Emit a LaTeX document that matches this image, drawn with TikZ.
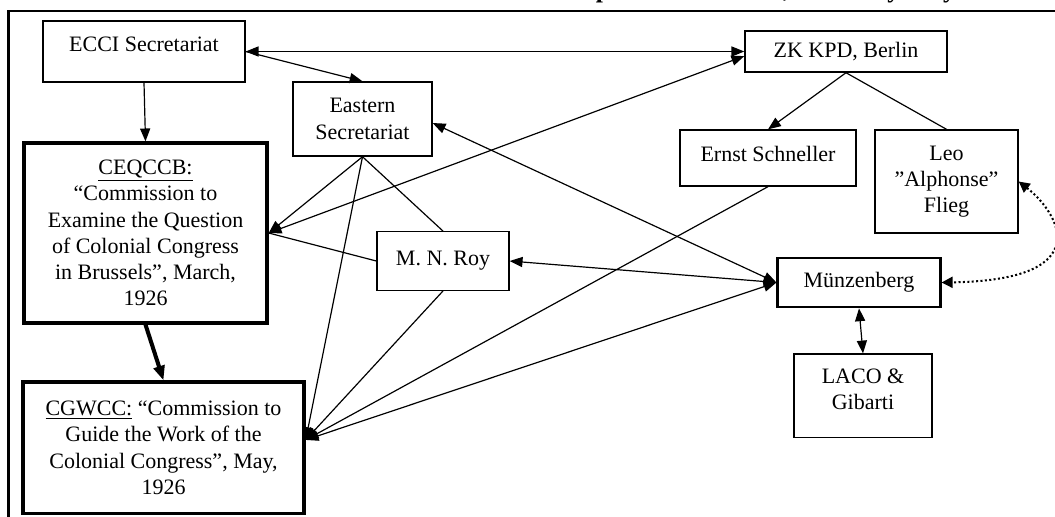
\documentclass[tikz,border=0pt]{standalone}
\usepackage{fontspec}
\setmainfont{Liberation Serif}
\usetikzlibrary{arrows.meta}
\begin{document}
\begin{tikzpicture}[x=0.5455pt,y=-0.5455pt,
  every node/.style={font=\fontsize{12}{14.3}\selectfont, align=center, inner sep=0pt},
  box/.style={draw, line width=0.75pt},
  thickbox/.style={draw, line width=1.8pt},
  midbox/.style={draw, line width=1.5pt},
  conn/.style={line width=0.65pt},
  arr/.style={-{Triangle[length=7pt,width=5.5pt]}},
  darr/.style={{Triangle[length=7pt,width=5.5pt]}-{Triangle[length=7pt,width=5.5pt]}},
  bigarr/.style={line width=2.2pt,-{Triangle[length=8pt,width=6pt]}},
  dotarr/.style={line width=1.1pt, dash pattern=on 1.1pt off 1.3pt,
     {Triangle[length=6pt,width=6pt]}-{Triangle[length=6pt,width=6pt]}}
]
\clip (0,0) rectangle (1055,516);
% title (cut off at the top of the picture)
\node[anchor=base west, align=left, font=\bfseries\fontsize{14}{16}\selectfont] (title) at (24,-2.5)
  {Table 3: Communication Lines between the Anti-Imperialist network, February-July 1926};
% frame
\draw[line width=1.4pt] (8.5,530) -- (8.5,11) -- (1065,11);

% boxes
\node[box, minimum width=110.2pt, minimum height=33.3pt, text height=0pt, text depth=0pt] (ecci) at (144,51.5) {ECCI Secretariat};
\node[box, minimum width=75.8pt, minimum height=40.4pt] (eastern) at (362.5,119) {Eastern\\Secretariat};
\node[thickbox, minimum width=132.6pt, minimum height=98.2pt] (ceq) at (145.5,233)
  {\underline{CEQCCB:}\\“Commission to\\Examine the Question\\of Colonial Congress\\in Brussels”, March,\\1926};
\node[box, minimum width=72pt, minimum height=31.9pt] (roy) at (443,261) {M. N. Roy};
\node[thickbox, minimum width=153.3pt, minimum height=71.7pt] (cgw) at (163.5,447.8)
  {\underline{CGWCC:} “Commission to\\Guide the Work of the\\Colonial Congress”, May,\\1926};
\node[box, minimum width=110.2pt, minimum height=22.4pt] (zk) at (846,51.5) {ZK KPD, Berlin};
\node[box, minimum width=96pt, minimum height=30.5pt, text height=4pt, text depth=0pt] (ernst) at (768,158) {Ernst Schneller};
\node[box, minimum width=78pt, minimum height=56.2pt] (leo) at (946.5,181.5) {Leo\\”Alphonse”\\Flieg};
\node[midbox, minimum width=88.6pt, minimum height=26.7pt] (munz) at (859,282.5) {Münzenberg};
\node[box, minimum width=75.3pt, minimum height=45.5pt] (laco) at (863,395.8)
  {\raisebox{-7.7pt}[0pt][0pt]{\begin{tabular}[b]{@{}c@{}}LACO \&\\Gibarti\end{tabular}}};

% connectors
\draw[conn,darr] (ecci.east) -- (zk.west);
\draw[conn,arr] (ecci.east) -- (eastern.north);
\draw[conn,arr] (ecci.south) -- (ceq.north);
\draw[bigarr] (ceq.south) -- (cgw.north);
\draw[conn,arr] (eastern.south) -- (ceq.east);
\draw[conn,darr] (ceq.east) -- ([yshift=-2.5pt]zk.west);
\draw[conn] (ceq.east) -- (roy.west);
\draw[conn] (eastern.south) -- (roy.north);
\draw[conn,arr] (eastern.south) -- ([yshift=4.3pt]cgw.east);
\draw[conn,arr] (roy.south) -- ([yshift=4.3pt]cgw.east);
\draw[conn,arr] (ernst.south) -- ([yshift=4.3pt]cgw.east);
\draw[conn,darr] (munz.west) -- ([yshift=4.3pt]cgw.east);
\draw[conn,darr] ([yshift=-2.2pt]eastern.east) -- (munz.west);
\draw[conn,darr] (roy.east) -- (munz.west);
\draw[conn,arr] (zk.south) -- (ernst.north);
\draw[conn] (zk.south) -- (leo.north);
\draw[conn,darr] (munz.south) -- (laco.north);
\draw[dotarr] (leo.east) .. controls (1058,212) and (1100,280) .. (munz.east);
\end{tikzpicture}
\end{document}
